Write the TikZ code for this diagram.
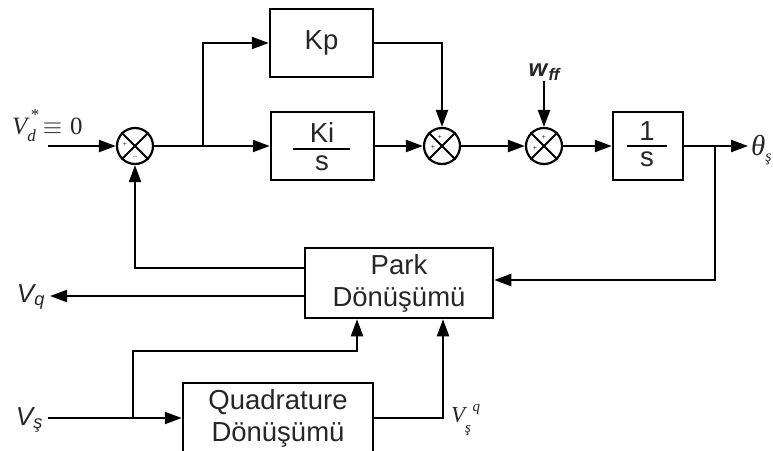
\documentclass[tikz,border=0pt]{standalone}
\usepackage{amsmath}
\usepackage{fontspec}
\setmainfont{Liberation Sans}
\newfontfamily\timesfont{Liberation Serif}
\usetikzlibrary{arrows.meta,positioning,calc}

\begin{document}
\begin{tikzpicture}[
            x=1pt, y=-1pt,
            line width=2.2pt,
            every node/.style={text=black!85},
            blk/.style={draw, line width=2.5pt, minimum height=68pt, inner sep=0pt, font=\fontsize{27.5}{32}\selectfont, align=center},
            ftxt/.style={inner sep=0pt, anchor=base, font=\fontsize{27.5}{32}\selectfont},
            fbar/.style={line width=2pt},
            sumj/.style={circle, draw, minimum size=36pt, inner sep=0pt},
            sgn/.style={inner sep=0pt, font=\fontsize{7}{7}\selectfont},
            lab/.style={inner sep=0pt, font=\timesfont\itshape\fontsize{25}{28}\selectfont},
            arr/.style={-{Triangle[length=17pt,width=12pt]}}
        ]

% --- frame ---
            \useasboundingbox (0,0) rectangle (773,450);

% --- blocks ---
            \node[blk, minimum width=103pt] (kp) at (321.5,43) {Kp};
            \node[blk, minimum width=103pt] (ki) at (322.5,146) {};
            \node[blk, minimum width=70pt] (integ) at (648,146) {};
            \node[blk, minimum width=188pt, minimum height=70pt] (park) at (399,283) {Park\\Dönüşümü};
            \node[blk, minimum width=190pt, minimum height=70pt] (quad) at (278,418) {Quadrature\\Dönüşümü};

% --- fractions ---
            \node[ftxt] (kinum) at (322,142) {Ki};
            \node[ftxt] (kiden) at (322,170) {s};
            \draw[fbar] (293,149) -- (350,149);
            \node[ftxt] (innum) at (647,140) {1};
            \node[ftxt] (inden) at (647,166) {s};
            \draw[fbar] (627,146) -- (667,146);

% --- summing junctions ---
            \node[sumj] (j1) at (135,146) {};
            \node[sumj] (j2) at (442,146) {};
            \node[sumj] (j3) at (544,146) {};
            \foreach \j in {j1,j2,j3}
                \draw[line width=1.8pt] (\j.north east) -- (\j.south west) (\j.north west) -- (\j.south east);

            \node[sgn] at ($(j1)+(-10,-2)$) {+};
            \node[sgn] at ($(j1)+(0,11)$) {$-$};
            \node[sgn] at ($(j2)+(-2,-9)$) {+};
            \node[sgn] at ($(j2)+(-9,1)$) {+};
            \node[sgn] at ($(j3)+(0,-9)$) {+};
            \node[sgn] at ($(j3)+(-9,2)$) {+};

% --- labels ---
            \node[lab, anchor=base west] (vd) at (11,134) {V\rlap{\raisebox{14pt}{\fontsize{17}{17}\selectfont\,*}}\raisebox{-7pt}{\fontsize{17}{17}\selectfont d}\hspace{7pt}\upshape\fontsize{24.88}{28}\selectfont$\equiv$\hspace{8pt}0};
            \node[lab, anchor=base west, font=\timesfont\itshape\fontsize{29}{30}\selectfont] (theta) at (750,155) {θ\raisebox{-6pt}{\fontsize{16}{16}\selectfont ş}};
            \node[lab, anchor=east, font=\fontsize{26}{28}\selectfont] (vq) at (46,297) {$\textit{V}_{\textit{q}}$};
            \node[lab, anchor=east, font=\fontsize{26}{28}\selectfont] (vs) at (44,420) {$\textit{V}_{\textit{ş}}$};
            \node[lab, font=\fontsize{24}{26}\selectfont] (wff) at (545,72) {$\textbf{\textit{w}}_{\textbf{\textit{ff}}}$};
            \node[lab, anchor=base west, font=\timesfont\itshape\fontsize{23}{24}\selectfont] (vsq) at (450,422) {V\rlap{\raisebox{11pt}{\fontsize{15}{15}\selectfont\ \ q}}\raisebox{-10pt}{\fontsize{15}{15}\selectfont ş}};

% --- points ---
            \coordinate (in1) at (48,146);
            \coordinate (br1) at (203,146);
            \coordinate (br2) at (715,146);
            \coordinate (out1) at (748,146);
            \coordinate (out2) at (50,296);
            \coordinate (in2) at (48,418);
            \coordinate (br3) at (133,418);
            \coordinate (k1) at (133,351);

% --- forward path ---
            \draw[arr] (in1) -- (j1);
            \draw[arr] (j1) -- (ki);
            \draw[arr] (br1) |- (kp);
            \draw[arr] (kp) -| (j2);
            \draw[arr] (ki) -- (j2);
            \draw[arr] (j2) -- (j3);
            \draw[arr] (wff.south -| j3) -- (j3);
            \draw[arr] (j3) -- (integ);
            \draw[arr] (integ) -- (out1);

% --- feedback ---
            \draw[arr] (br2) |- ([yshift=3pt]park.east);
            \draw[arr] ([yshift=15pt]park.west) -| (j1);
            \draw[arr] ([yshift=-13pt]park.west) -- (out2);

% --- stator voltage inputs ---
            \draw[arr] (in2) -- (quad);
            \draw[arr] (br3) -- (k1) -| ([xshift=-42pt]park.south);
            \draw[arr] (quad) -| ([xshift=44pt]park.south);

        \end{tikzpicture}
\end{document}
